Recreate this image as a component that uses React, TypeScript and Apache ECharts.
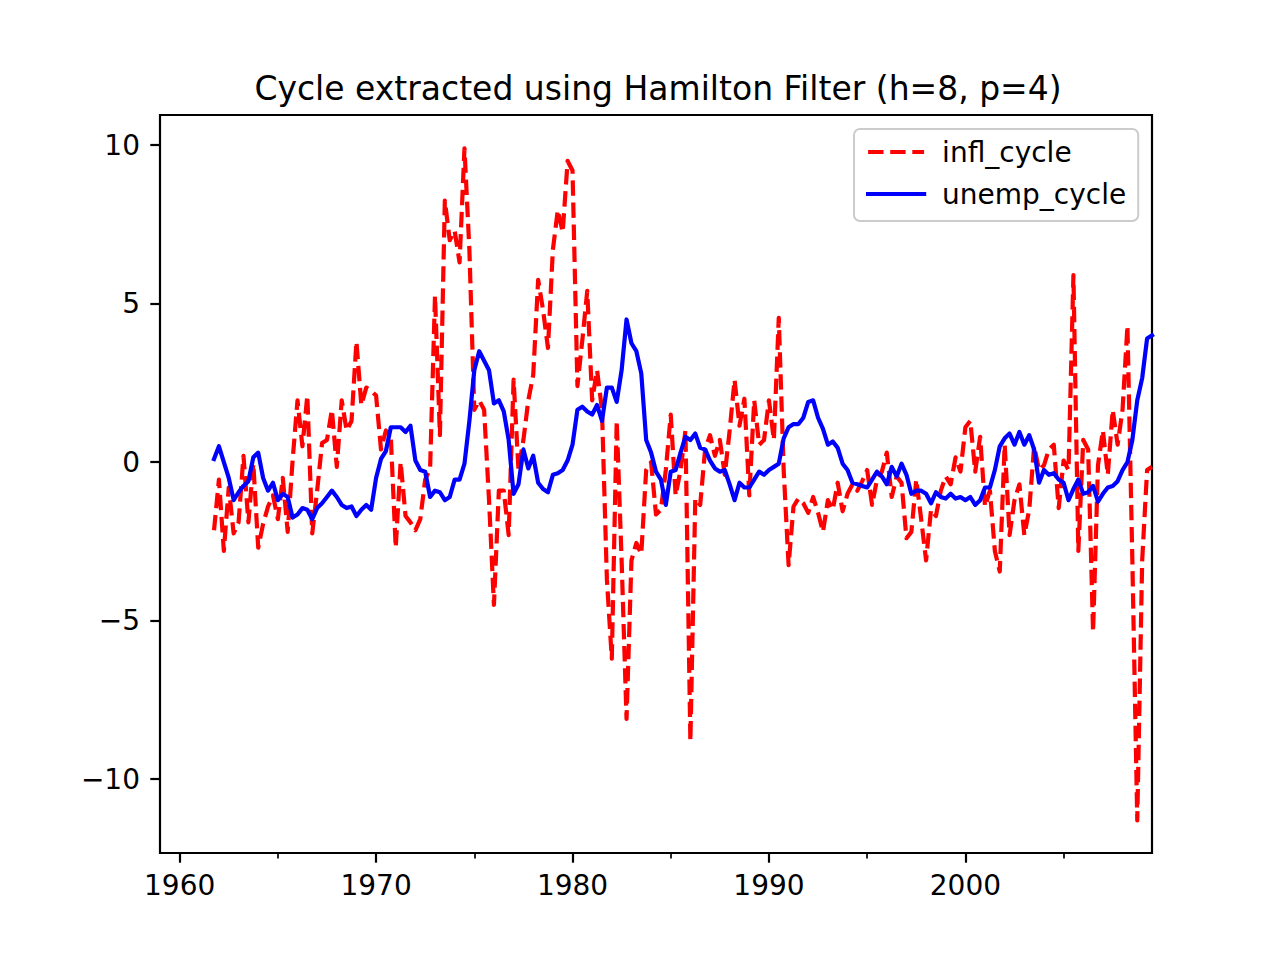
import React, { useEffect, useRef } from "react";
import * as echarts from "echarts";

// quarterly observations, first one is 1961Q4
const START_YEAR = 1961.75;
const QUARTER = 0.25;

const inflCycle = [
  -2.15,
  -0.55, -2.8, -0.8, -2.25,
  -1.9, 0.2, -1.9, -0.05,
  -2.7, -1.95, -1.4, -1.05,
  -1.8, -0.5, -2.2, 0.05,
  1.95, 0.5, 2.1, -2.25,
  -0.9, 0.6, 0.7, 1.65,
  -0.15, 1.95, 1.0, 1.3,
  3.8, 1.8, 2.35, 2.25,
  2.1, 0.4, 1.0, 0.8,
  -2.7, 0.0, -1.7, -1.9,
  -2.15, -1.8, -0.55, -0.2,
  5.25, 0.85, 8.25, 7.0,
  7.3, 6.3, 9.9, 6.7,
  1.65, 1.95, 1.65, -1.2,
  -4.5, -0.9, -0.9, -2.3,
  2.6, -0.25, 0.7, 1.95,
  2.75, 5.75, 4.8, 3.6,
  6.7, 7.95, 7.25, 9.5,
  9.2, 2.4, 3.85, 5.4,
  1.95, 2.9, 1.65, -3.7,
  -6.2, 1.3, -3.1, -8.1,
  -3.1, -2.55, -2.9, -0.25,
  0.0, -1.65, -1.5, -0.25,
  1.5, -1.05, -0.25, 1.0,
  -8.8, -1.15, -1.35, 0.4,
  0.85, 0.2, 0.7, -0.4,
  1.0, 2.6, 1.15, 2.0,
  -1.05, 1.95, 0.55, 0.7,
  1.95, 0.7, 4.55, -0.25,
  -3.25, -1.4, -1.15, -1.3,
  -1.6, -1.1, -1.6, -2.2,
  -1.2, -1.5, -0.65, -1.55,
  -1.0, -0.7, -0.9, -0.6,
  -0.25, -1.35, -0.55, -0.3,
  0.3, -1.1, -0.45, -0.65,
  -2.4, -2.2, -0.55, -1.8,
  -3.1, -1.5, -1.7, -0.9,
  -0.45, -0.7, 0.15, -0.3,
  1.1, 1.3, -0.3, 0.8,
  -1.4, -0.9, -2.8, -3.45,
  0.55, -2.3, -1.2, -0.7,
  -2.3, -1.5, 0.5, -0.25,
  -0.1, 0.4, 0.55, -1.45,
  0.05, -0.25, 5.9, -2.8,
  0.7, 0.4, -5.35, -0.1,
  1.0, -0.4, 1.65, 0.55,
  1.65, 4.3, -3.1, -11.3,
  -3.1, -0.25, -0.15,
];

const unempCycle = [
  0.1,
  0.5, 0.0, -0.5, -1.2,
  -0.95, -0.75, -0.6, 0.15,
  0.3, -0.5, -0.9, -0.65,
  -1.2, -1.0, -1.1, -1.75,
  -1.65, -1.45, -1.5, -1.8,
  -1.45, -1.3, -1.1, -0.9,
  -1.1, -1.35, -1.45, -1.4,
  -1.7, -1.5, -1.35, -1.5,
  -0.5, 0.1, 0.35, 1.1,
  1.1, 1.1, 0.95, 1.15,
  0.05, -0.25, -0.3, -1.1,
  -0.9, -0.95, -1.2, -1.1,
  -0.55, -0.55, -0.05, 1.3,
  2.9, 3.5, 3.2, 2.9,
  1.85, 1.95, 1.6, 0.7,
  -1.0, -0.7, 0.4, -0.2,
  0.2, -0.65, -0.85, -0.95,
  -0.4, -0.35, -0.25, 0.05,
  0.55, 1.65, 1.75, 1.6,
  1.5, 1.8, 1.3, 2.35,
  2.35, 1.9, 2.9, 4.5,
  3.75, 3.5, 2.8, 0.7,
  0.3, -0.3, -0.55, -1.35,
  -0.3, -0.25, 0.3, 0.8,
  0.7, 0.9, 0.45, 0.4,
  0.05, -0.2, -0.3, -0.25,
  -0.7, -1.2, -0.65, -0.8,
  -0.8, -0.55, -0.3, -0.4,
  -0.25, -0.15, -0.05, 0.75,
  1.1, 1.2, 1.2, 1.4,
  1.9, 1.95, 1.4, 1.05,
  0.55, 0.65, 0.45, -0.05,
  -0.25, -0.65, -0.7, -0.75,
  -0.8, -0.55, -0.3, -0.45,
  -0.7, -0.15, -0.45, -0.05,
  -0.4, -1.0, -0.9, -0.9,
  -1.0, -1.3, -0.95, -1.1,
  -1.15, -1.0, -1.15, -1.1,
  -1.2, -1.1, -1.35, -1.2,
  -0.8, -0.8, -0.25, 0.5,
  0.75, 0.9, 0.55, 0.95,
  0.55, 0.85, 0.4, -0.65,
  -0.25, -0.4, -0.35, -0.55,
  -0.65, -1.2, -0.85, -0.55,
  -1.0, -0.95, -0.75, -1.25,
  -1.0, -0.8, -0.75, -0.6,
  -0.25, 0.0, 0.7, 1.95,
  2.65, 3.9, 4.0,
];

const xMajorTicks = [1960, 1970, 1980, 1990, 2000];
const xMinorTicks = [1965, 1975, 1985, 1995, 2005];
const yTicks = [-10, -5, 0, 5, 10];

const FONT = "DejaVu Sans";

export default function App() {
  const ref = useRef<HTMLDivElement>(null);
  useEffect(() => {
    document.body.style.margin = "0";
    const chart = echarts.init(ref.current!, null, { renderer: "svg" });
    const toPairs = (arr: number[]) => arr.map((v, i) => [START_YEAR + i * QUARTER, v]);
    const fmtY = (v: number) => (v < 0 ? "\u2212" + String(-v) : String(v));
    chart.setOption({
      animation: false,
      backgroundColor: "#ffffff",
      textStyle: { fontFamily: FONT },
      title: {
        text: "Cycle extracted using Hamilton Filter (h=8, p=4)",
        left: 653,
        top: 67,
        textAlign: "center",
        textStyle: { fontFamily: FONT, fontSize: 33, fontWeight: "normal", color: "#000" },
      },
      grid: {
        left: 160,
        top: 115,
        width: 992,
        height: 738,
        show: true,
        borderColor: "#000",
        borderWidth: 2.2,
        backgroundColor: "transparent",
        containLabel: false,
      },
      legend: {
        orient: "vertical",
        left: 854,
        top: 129,
        data: ["infl_cycle", "unemp_cycle"],
        itemWidth: 56,
        itemHeight: 14,
        itemGap: 14,
        padding: [9, 12, 13, 12],
        backgroundColor: "rgba(255,255,255,0.8)",
        borderColor: "#cccccc",
        borderWidth: 2,
        borderRadius: 6,
        selectedMode: false,
        itemStyle: { opacity: 0 },
        lineStyle: { width: 4.2 },
        textStyle: { fontFamily: FONT, fontSize: 28, color: "#000", padding: [0, 0, 0, 13] },
      },
      xAxis: [
        {
          type: "value",
          min: 1959,
          max: 2009.5,
          position: "bottom",
          axisLine: { show: false, onZero: false },
          splitLine: { show: false },
          axisTick: { show: true, customValues: xMajorTicks, length: 9.7, lineStyle: { color: "#000", width: 2.2 } },
          axisLabel: {
            show: true,
            customValues: xMajorTicks,
            margin: 18,
            fontFamily: FONT,
            fontSize: 28,
            color: "#000",
            formatter: (v: number) => String(v),
          },
        },
        {
          type: "value",
          min: 1959,
          max: 2009.5,
          position: "bottom",
          axisLine: { show: false, onZero: false },
          splitLine: { show: false },
          axisTick: { show: true, customValues: xMinorTicks, length: 5.6, lineStyle: { color: "#000", width: 1.7 } },
          axisLabel: { show: false },
        },
      ],
      yAxis: {
        type: "value",
        min: -12.33,
        max: 10.95,
        position: "left",
        axisLine: { show: false, onZero: false },
        splitLine: { show: false },
        axisTick: { show: true, customValues: yTicks, length: 9.7, lineStyle: { color: "#000", width: 2.2 } },
        axisLabel: {
          show: true,
          customValues: yTicks,
          margin: 20,
          fontFamily: FONT,
          fontSize: 28,
          color: "#000",
          formatter: fmtY,
        },
      },
      series: [
        {
          name: "infl_cycle",
          type: "line",
          xAxisIndex: 0,
          data: toPairs(inflCycle),
          symbol: "none",
          showSymbol: false,
          clip: true,
          lineStyle: { color: "#ff0000", width: 4.2, type: [15.4, 6.7], cap: "butt", join: "round" },
          itemStyle: { color: "#ff0000" },
        },
        {
          name: "unemp_cycle",
          type: "line",
          xAxisIndex: 0,
          data: toPairs(unempCycle),
          symbol: "none",
          showSymbol: false,
          clip: true,
          lineStyle: { color: "#0000ff", width: 4.2, type: "solid", cap: "square", join: "round" },
          itemStyle: { color: "#0000ff" },
        },
      ],
    });
    return () => chart.dispose();
  }, []);
  return <div ref={ref} style={{ width: 1280, height: 960 }} />;
}
